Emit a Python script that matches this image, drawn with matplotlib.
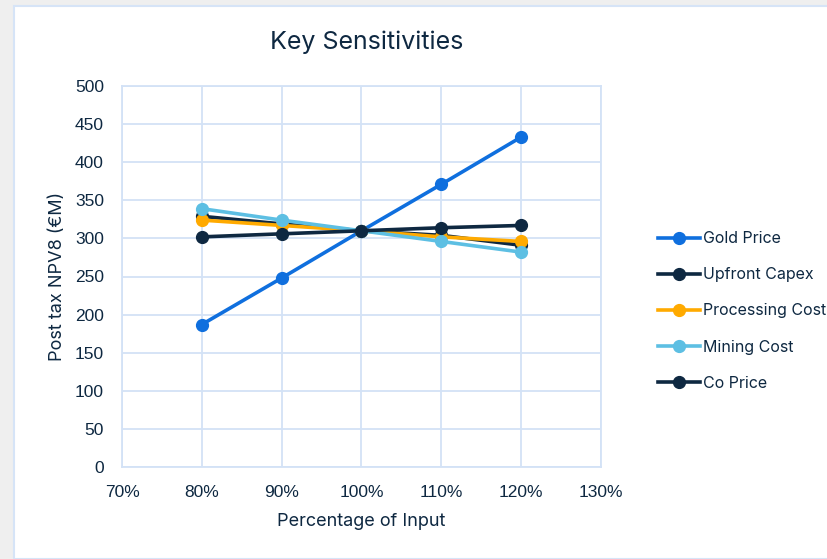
import matplotlib.pyplot as plt
from matplotlib.patches import Rectangle

# percentage of base input
pct = [80, 90, 100, 110, 120]

gold_price = [187, 248, 310, 371, 433]
upfront_capex = [329, 319, 310, 304, 291]
processing_cost = [324, 317, 310, 302, 296]
mining_cost = [339, 324, 310, 296, 282]
co_price = [302, 306, 310, 314, 317]

series = [
    ('Gold Price', gold_price, '#0F6FDE'),
    ('Upfront Capex', upfront_capex, '#0E2841'),
    ('Processing Cost', processing_cost, '#FFAA00'),
    ('Mining Cost', mining_cost, '#5DBFE3'),
    ('Co Price', co_price, '#0E2841'),
]

navy = '#0E2841'
grid_col = '#D3E2F6'

fig = plt.figure(figsize=(8.28, 5.59), dpi=100, facecolor='#EFEFEF')
# white chart card behind everything
fig.patches.append(Rectangle((14 / 828, 0), 1, 1 - 6 / 559, transform=fig.transFigure,
                             facecolor='white', edgecolor='#D6E4F7', linewidth=1.5, zorder=-5))

ax = fig.add_axes([122 / 828, 1 - 467 / 559, (601 - 122) / 828, (467 - 86) / 559])
ax.set_facecolor('white')

for name, vals, col in series:
    ax.plot(pct, vals, color=col, linewidth=2.6, marker='o', markersize=8.5, label=name)

ax.set_xlim(70, 130)
ax.set_ylim(0, 500)
ax.set_xticks(range(70, 131, 10))
ax.set_xticklabels([f'{v}%' for v in range(70, 131, 10)])
ax.set_yticks(range(0, 501, 50))
ax.grid(True, color=grid_col, linewidth=1.3)
ax.set_axisbelow(True)
for s in ax.spines.values():
    s.set_color(grid_col)
    s.set_linewidth(1.3)
ax.tick_params(length=0, colors=navy, labelsize=12.5)
ax.tick_params(axis='x', pad=13)
ax.tick_params(axis='y', pad=13)
for lab in ax.get_xticklabels() + ax.get_yticklabels():
    lab.set_fontfamily('Liberation Sans')

ax.set_xlabel('Percentage of Input', fontsize=13, color=navy, family='Inter', labelpad=9)
ax.set_ylabel('Post tax NPV8 (€M)', fontsize=13, color=navy, family='Inter', labelpad=6)
fig.text(367 / 828, 1 - 42 / 559, 'Key Sensitivities', ha='center', va='center',
         fontsize=18, color=navy, family='Inter')

leg = ax.legend(loc='center left', bbox_to_anchor=(652 / 828, 1 - 311 / 559),
                bbox_transform=fig.transFigure, frameon=False,
                prop={'family': 'Inter', 'size': 11.5}, labelspacing=1.32,
                handlelength=2.6, handletextpad=0.2, borderaxespad=0)
for t in leg.get_texts():
    t.set_color(navy)

fig.savefig('out.png', dpi=100, facecolor=fig.get_facecolor())
